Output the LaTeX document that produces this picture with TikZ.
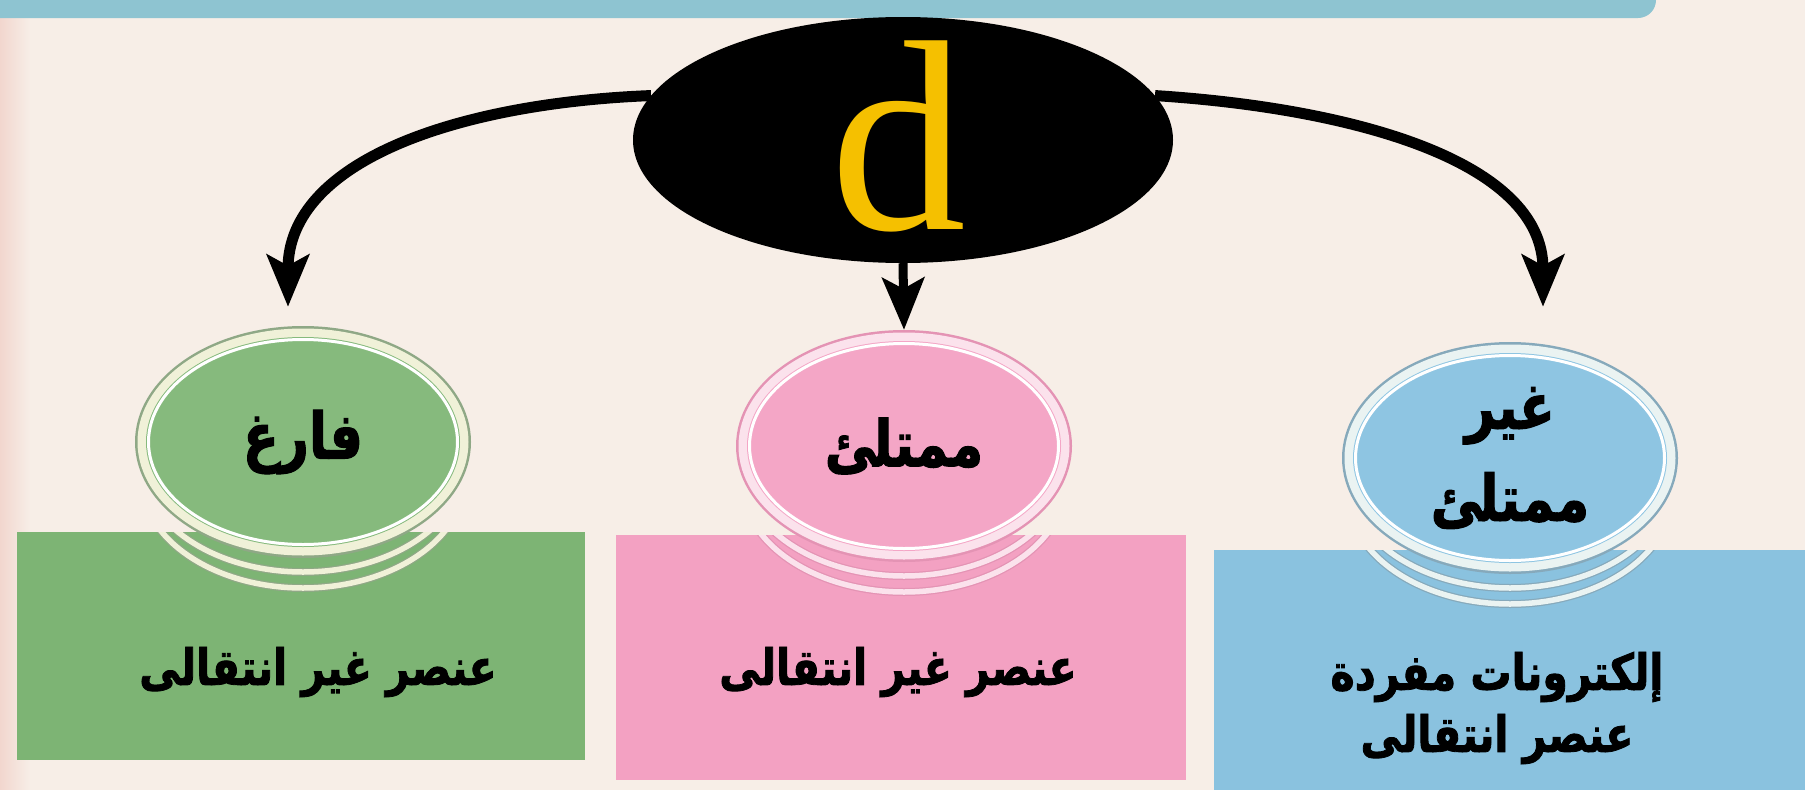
\documentclass[tikz,border=0pt]{standalone}
\usepackage{fontspec}
\setmainfont{Liberation Serif}
\newfontfamily\arabicfont[Script=Arabic, FakeStretch=0.82, BoldFeatures={FakeBold=1.6}]{DejaVu Sans}
\TeXXeTstate=1
\usetikzlibrary{arrows.meta,shapes.geometric,calc}

\definecolor{paper}{HTML}{F7EEE7}
\definecolor{edgetint}{HTML}{F2D6CE}
\definecolor{band}{HTML}{8EC4D1}
\definecolor{dyellow}{HTML}{F5C000}
\definecolor{gfill}{HTML}{86BA7D}
\definecolor{grect}{HTML}{7DB474}
\definecolor{gedge}{HTML}{8FA886}
\definecolor{gcream}{HTML}{F0F1D8}
\definecolor{pfill}{HTML}{F4A6C6}
\definecolor{prect}{HTML}{F3A1C2}
\definecolor{pedge}{HTML}{E493B4}
\definecolor{pcream}{HTML}{FBE2EC}
\definecolor{bfill}{HTML}{8EC5E2}
\definecolor{brect}{HTML}{8AC2DF}
\definecolor{bedge}{HTML}{86A9BB}
\definecolor{bcream}{HTML}{EAF3F2}

\tikzset{
  link/.style={line width=11pt, draw=black,
    -{Stealth[length=52pt,width=42pt,inset=11pt]}},
  bubbletext/.style={font=\arabicfont\bfseries\fontsize{64}{92}\selectfont,
    align=center, inner sep=0pt, text=black},
  boxtext/.style={font=\arabicfont\bfseries\fontsize{50}{62}\selectfont,
    align=center, inner sep=0pt, text=black},
  shell/.style={ellipse, minimum width=336pt, minimum height=232pt, inner sep=0pt},
}

% stacked cream rings peeking out below a bubble (clipped to its box)
\newcommand\underrings[4]{% #1 centre, #2 box, #3 edge colour, #4 cream colour
  \begin{scope}
    \clip #2;
    \foreach \s in {20,36} {
      \draw[#3, line width=8pt] ($#1+(0,\s)$) ellipse [x radius=162, y radius=110];
      \draw[#4, line width=5.5pt] ($#1+(0,\s)$) ellipse [x radius=162, y radius=110];
    }
  \end{scope}}

% bubble with an outer edge, a cream band and a thin white inner line
\newcommand\bubble[5]{% #1 name, #2 centre, #3 fill, #4 edge, #5 cream
  \node[shell, fill=#4] (#1) at #2 {};
  \fill[#5] (#1.center) ellipse [x radius=165.5, y radius=113.5];
  \fill[#3] (#1.center) ellipse [x radius=157, y radius=105];
  \draw[white, line width=3pt] (#1.center) ellipse [x radius=154.5, y radius=102.5];}

\begin{document}
\begin{tikzpicture}[x=1pt,y=-1pt]
\useasboundingbox (0,0) rectangle (1805,790);
\fill[paper] (0,0) rectangle (1805,790);
\shade[left color=edgetint, right color=paper] (0,0) rectangle (30,790);

% header band
\fill[band, rounded corners=18pt] (-30,-30) rectangle (1656,18);

% ---- empty d sub-level (green)
\fill[grect] (17,532) rectangle (585,760);
\underrings{(303,442)}{(17,532) rectangle (585,760)}{gedge}{gcream}
\bubble{empty}{(303,442)}{gfill}{gedge}{gcream}
\node[bubbletext] (emptyt) at (empty.center) {\beginR فارغ\endR};
\node[boxtext] (emptyb) at (318,672) {\beginR عنصر غير انتقالى\endR};

% ---- full d sub-level (pink)
\fill[prect] (616,535) rectangle (1186,780);
\underrings{(904,446)}{(616,535) rectangle (1186,780)}{pedge}{pcream}
\bubble{full}{(904,446)}{pfill}{pedge}{pcream}
\node[bubbletext] (fullt) at (full.center) {\beginR ممتلئ\endR};
\node[boxtext] (fullb) at (898,672) {\beginR عنصر غير انتقالى\endR};

% ---- partly filled d sub-level (blue)
\fill[brect] (1214,550) rectangle (1805,790);
\underrings{(1510,458)}{(1214,550) rectangle (1805,790)}{bedge}{bcream}
\bubble{partial}{(1510,458)}{bfill}{bedge}{bcream}
\node[bubbletext] (partialt) at (partial.center) {\beginR غير\endR\\\beginR ممتلئ\endR};
\node[boxtext] (partialb) at (1497,708) {\beginR إلكترونات مفردة\endR\\\beginR عنصر انتقالى\endR};

% ---- the d sub-level
\node[ellipse, fill=black, minimum width=540pt, minimum height=246pt, inner sep=0pt] (dnode) at (903,140) {};
\node[text=dyellow, inner sep=0pt, font=\fontsize{272}{272}\selectfont] (dletter) at (898,136) {d};

% connectors
\draw[link] (dnode.170) .. controls (460,103) and (288,160) .. ($(empty.north)+(-15,-19)$);
\draw[link, line width=9pt] (dnode.south) -- (full.north);
\draw[link] (dnode.10) .. controls (1350,108) and (1543,160) .. ($(partial.north)+(33,-35)$);
\end{tikzpicture}
\end{document}
